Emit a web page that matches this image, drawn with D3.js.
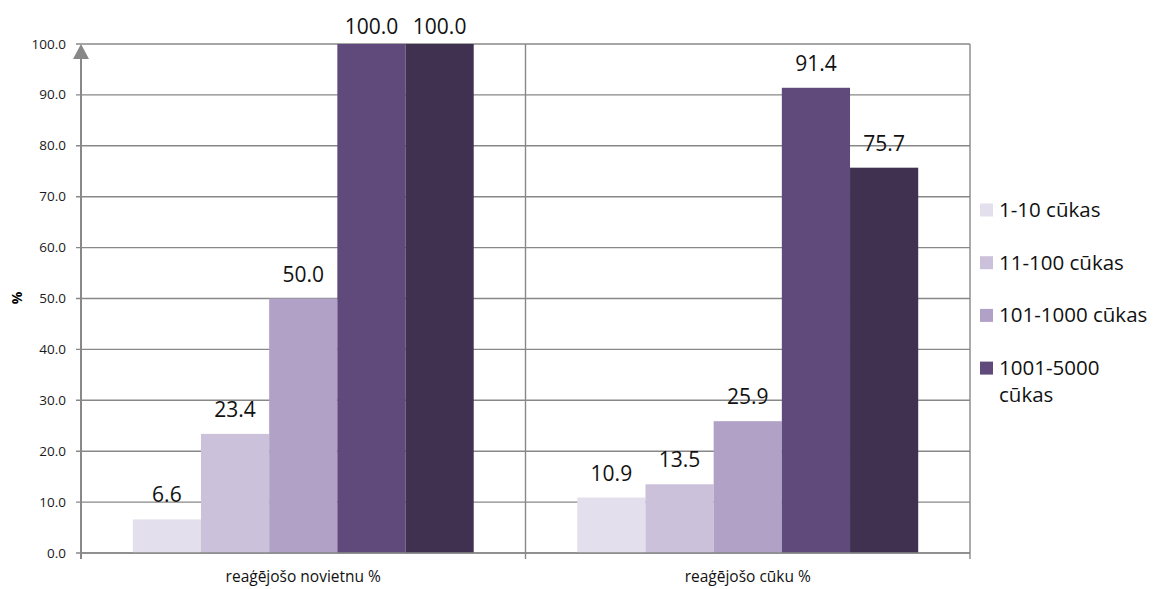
<!DOCTYPE html>
<html>
<head>
<meta charset="utf-8">
<script src="https://cdn.jsdelivr.net/npm/d3@7"></script>
<style>
  body { margin: 0; background: #fff; }
  svg { font-family: "Open Sans", sans-serif; }
</style>
</head>
<body>
<svg></svg>
<script>
// categories on the x axis
var categories = ["reaģējošo novietnu %", "reaģējošo cūku %"]
// series (the fifth one has no legend entry in the original)
var seriesNames = ["1-10 cūkas", "11-100 cūkas", "101-1000 cūkas", "1001-5000 cūkas", "virs 5000 cūkas"]
var seriesColours = ["#e4dfec", "#ccc1da", "#b2a1c7", "#604a7b", "#403151"]
// values per series, in category order
var values = [
    [6.6, 10.9],
    [23.4, 13.5],
    [50.0, 25.9],
    [100.0, 91.4],
    [100.0, 75.7]
]
var yTicks = [0, 10, 20, 30, 40, 50, 60, 70, 80, 90, 100]
var legendCount = 4

var svg = d3.select("svg")
    .attr("width", 1153)
    .attr("height", 589)

// plot area edges (not called top/bottom: window.top is read only)
var plotLeft = 81, plotRight = 970, plotTop = 44, plotBottom = 553
var grey = "#888888"

var y = d3.scaleLinear().domain([0, 100]).range([plotBottom, plotTop])

var x = d3.scaleBand()
    .domain(categories)
    .range([plotLeft, plotRight])
    .paddingInner(0.233)
    .paddingOuter(0.1165)

var xs = d3.scaleBand()
    .domain(d3.range(seriesNames.length))
    .range([0, x.bandwidth()])

// gridlines
svg.append("g")
    .selectAll("line")
    .data(yTicks)
    .join("line")
    .attr("x1", plotLeft - 5)
    .attr("x2", plotRight)
    .attr("y1", function(d) { return y(d) })
    .attr("y2", function(d) { return y(d) })
    .style("stroke", grey)
    .style("stroke-width", 1.4)

// tick labels
svg.append("g")
    .selectAll("text")
    .data(yTicks)
    .join("text")
    .attr("x", 66)
    .attr("y", function(d) { return y(d) + 4.5 })
    .attr("text-anchor", "end")
    .style("font-size", "13.5px")
    .style("fill", "#1a1a1a")
    .text(function(d) { return d.toFixed(1) })

// vertical separators: left axis, category divider, right edge
var seps = [plotLeft, x.step() + plotLeft, plotRight]
svg.append("g")
    .selectAll("line")
    .data(seps)
    .join("line")
    .attr("x1", function(d) { return d })
    .attr("x2", function(d) { return d })
    .attr("y1", function(d, i) { return i == 0 ? plotTop + 10 : plotTop })
    .attr("y2", plotBottom + 6)
    .style("stroke", grey)
    .style("stroke-width", function(d, i) { return i == 0 ? 2 : 1.4 })

// bars
values.forEach(function(row, s) {
    svg.append("g")
        .selectAll("rect")
        .data(row)
        .join("rect")
        .attr("x", function(d, i) { return x(categories[i]) + xs(s) })
        .attr("y", function(d) { return y(d) })
        .attr("width", xs.bandwidth())
        .attr("height", function(d) { return y(0) - y(d) })
        .attr("fill", seriesColours[s])

    svg.append("g")
        .selectAll("text")
        .data(row)
        .join("text")
        .attr("x", function(d, i) { return x(categories[i]) + xs(s) + xs.bandwidth() / 2 })
        .attr("y", function(d) { return Math.max(y(d) - 17, 34) })
        .attr("text-anchor", "middle")
        .style("font-size", "21px")
        .style("fill", "#111")
        .text(function(d) { return d.toFixed(1) })
})

// baseline over bars
svg.append("line")
    .attr("x1", plotLeft).attr("x2", plotRight)
    .attr("y1", plotBottom).attr("y2", plotBottom)
    .style("stroke", grey)
    .style("stroke-width", 1.5)

// arrow on the y axis
svg.append("path")
    .attr("d", "M" + plotLeft + "," + plotTop + " L" + (plotLeft + 8) + "," + (plotTop + 15) + " L" + (plotLeft - 8) + "," + (plotTop + 15) + " Z")
    .attr("fill", grey)

// category labels
svg.append("g")
    .selectAll("text")
    .data(categories)
    .join("text")
    .attr("x", function(d) { return x(d) + x.bandwidth() / 2 })
    .attr("y", 582)
    .attr("text-anchor", "middle")
    .style("font-size", "15.5px")
    .style("fill", "#111")
    .text(function(d) { return d })

// y title
svg.append("text")
    .attr("transform", "translate(22,298) rotate(-90)")
    .attr("text-anchor", "middle")
    .style("font-size", "14px")
    .style("font-weight", "bold")
    .text("%")

// legend (only the first four series fit)
var legend = svg.append("g")
for (var i = 0; i < legendCount; i++) {
    var ly = 210 + i * 52.7
    legend.append("rect")
        .attr("x", 980)
        .attr("y", ly - 6.5)
        .attr("width", 13)
        .attr("height", 13)
        .attr("fill", seriesColours[i])
    var words = seriesNames[i].split(" ")
    var t = legend.append("text")
        .attr("x", 999)
        .attr("y", ly + 7)
        .style("font-size", "20.5px")
        .style("fill", "#111")
    // the last entry wraps onto two lines
    if (seriesNames[i].length > 14) {
        t.append("tspan").attr("x", 999).text(words[0])
        t.append("tspan").attr("x", 999).attr("dy", 27).text(words.slice(1).join(" "))
    } else {
        t.text(seriesNames[i])
    }
}
</script>
</body>
</html>
